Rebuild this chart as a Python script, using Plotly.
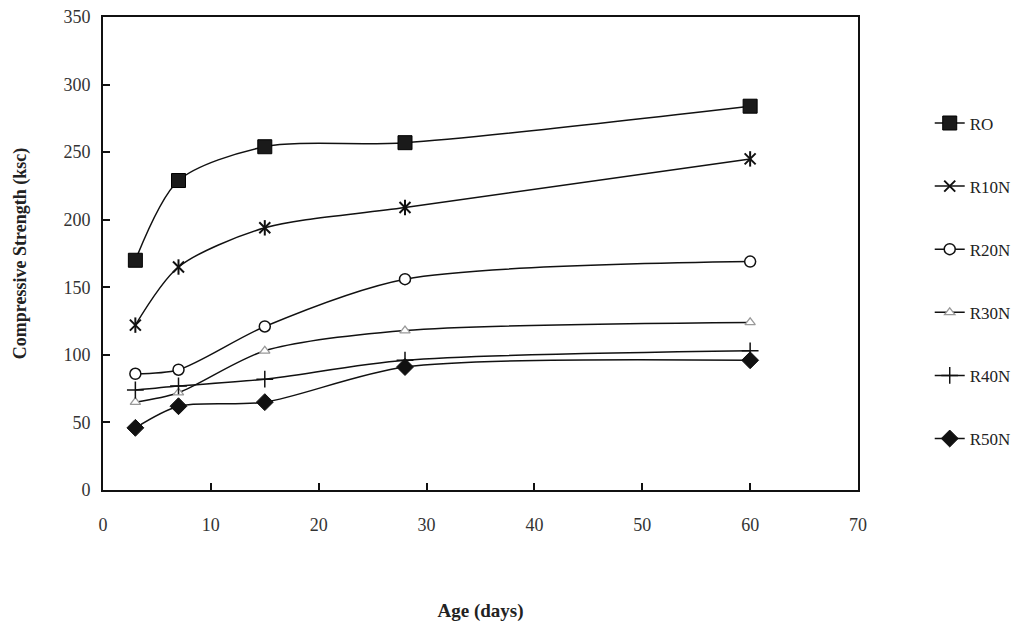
import plotly.graph_objects as go

age_days = [3, 7, 15, 28, 60]
series_names = ["RO", "R10N", "R20N", "R30N", "R40N", "R50N"]
ro = [170, 229, 254, 257, 284]
r10n = [122, 165, 194, 209, 245]
r20n = [86, 89, 121, 156, 169]
r30n = [65, 72, 103, 118, 124]
r40n = [74, 77, 82, 96, 103]
r50n = [46, 62, 65, 91, 96]
x_ticks = [0, 10, 20, 30, 40, 50, 60, 70]
y_ticks = [0, 50, 100, 150, 200, 250, 300, 350]

series_values = [ro, r10n, r20n, r30n, r40n, r50n]
marker_styles = [
    dict(symbol="square", size=14, color="#1a1a1a", line=dict(color="#000", width=1)),
    dict(symbol="x-thin-open", size=11, color="#111", line=dict(color="#111", width=2)),
    dict(symbol="circle", size=11, color="white", line=dict(color="#111", width=1.5)),
    dict(symbol="triangle-up", size=9, color="white", line=dict(color="#999", width=1.3)),
    dict(symbol="cross-thin-open", size=12, color="#111", line=dict(color="#111", width=1.5)),
    dict(symbol="diamond", size=13, color="#111", line=dict(color="#111", width=1)),
]

FONT = "Liberation Serif, Times New Roman, serif"
fig = go.Figure()
for i, (name, vals, mk) in enumerate(zip(series_names, series_values, marker_styles)):
    fig.add_trace(go.Scatter(
        x=age_days, y=vals, name=name, mode="lines+markers",
        line=dict(color="#111", width=1.5, shape="spline", smoothing=0.8),
        marker=mk, legendgroup=name,
    ))
    if name == "R10N":
        fig.add_trace(go.Scatter(
            x=age_days, y=vals, mode="markers", showlegend=False, hoverinfo="skip",
            marker=dict(symbol="line-ns-open", size=11, color="#111", line=dict(color="#111", width=2)),
            legendgroup=name,
        ))

axis_common = dict(
    showline=True, linecolor="#111", linewidth=2, mirror=True,
    ticks="inside", tickcolor="#111", ticklen=7, tickwidth=2,
    showgrid=False, zeroline=False, automargin=False,
    ticklabeloverflow="allow",
    tickfont=dict(family=FONT, size=18, color="#333"),
)
fig.update_xaxes(range=[0, 70], tickvals=x_ticks, ticklabelstandoff=17,
                 title=dict(text="<b>Age (days)</b>", font=dict(family=FONT, size=19, color="#222"), standoff=70),
                 **axis_common)
fig.update_yaxes(range=[0, 350], tickvals=y_ticks, ticklabelstandoff=7,
                 title=dict(text="<b>Compressive Strength (ksc)</b>", font=dict(family=FONT, size=18, color="#222"), standoff=32),
                 **axis_common)

fig.update_layout(
    width=1021, height=628,
    margin=dict(l=95, r=171, t=9, b=146),
    paper_bgcolor="white", plot_bgcolor="white",
    font=dict(family=FONT, size=17, color="#222"),
    legend=dict(x=1.095, y=0.813, xanchor="left", yanchor="top",
                tracegroupgap=38, font=dict(family=FONT, size=17, color="#222"),
                bgcolor="rgba(0,0,0,0)"),
    showlegend=True,
)
fig.write_html("out.html")
